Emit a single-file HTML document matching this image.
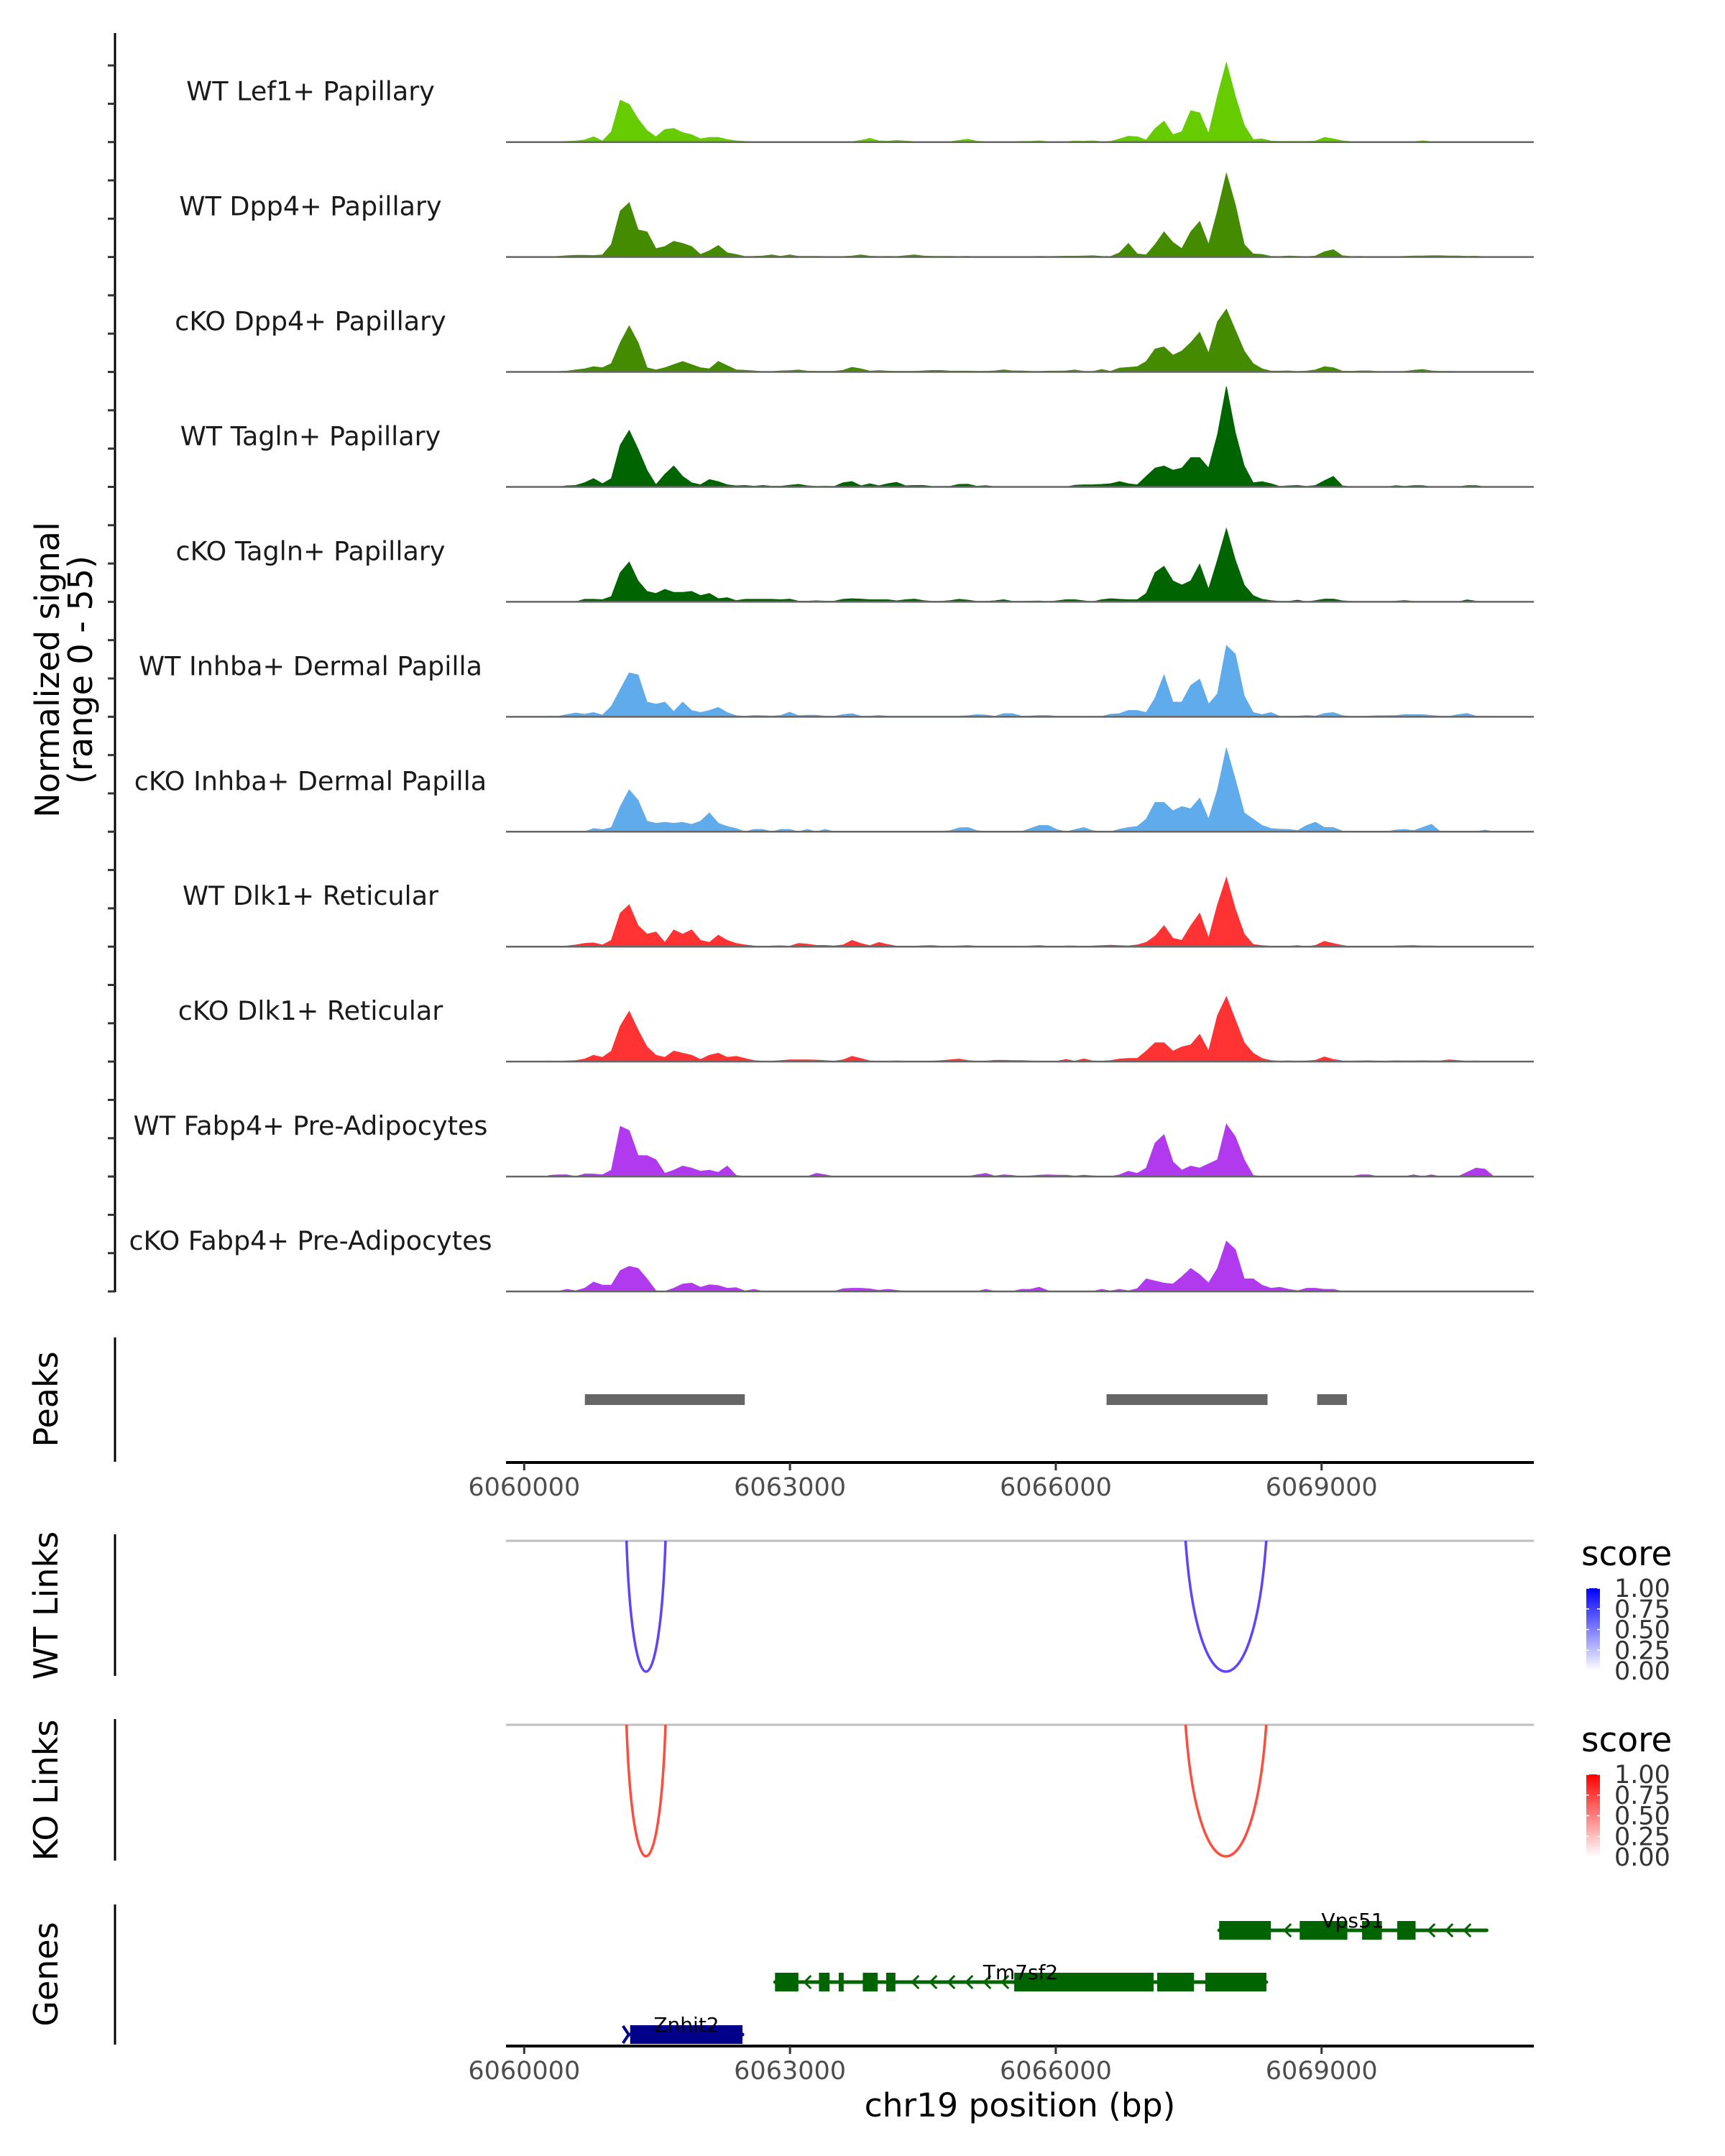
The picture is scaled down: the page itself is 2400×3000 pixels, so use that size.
<!DOCTYPE html>
<html><head><meta charset="utf-8">
<style>
html,body{margin:0;padding:0;background:#fff;}
svg{display:block;font-family:"DejaVu Sans","Liberation Sans",sans-serif;}
</style></head>
<body>
<svg id="fig" width="2400" height="3000" viewBox="0 0 2400 3000" xmlns="http://www.w3.org/2000/svg"></svg>
<script>
const trackLabels = ["WT Lef1+ Papillary","WT Dpp4+ Papillary","cKO Dpp4+ Papillary","WT Tagln+ Papillary","cKO Tagln+ Papillary","WT Inhba+ Dermal Papilla","cKO Inhba+ Dermal Papilla","WT Dlk1+ Reticular","cKO Dlk1+ Reticular","WT Fabp4+ Pre-Adipocytes","cKO Fabp4+ Pre-Adipocytes"];
const trackColors = ["#66cc00","#448b00","#448b00","#006400","#006400","#60abeb","#60abeb","#ff3333","#ff3333","#b23aee","#b23aee"];
const binStart = 6060280;
const binSize = 100.6;
const sigWTLef1 = [0,0.2,0.3,0.5,1.0,2.5,0.5,5,20,18,11,5.5,2.5,6,6.5,4.5,3.5,1.5,2.2,2.2,1.2,0.6,0.3,0.2,0.2,0.2,0.2,0.2,0.2,0.2,0.2,0.2,0.2,0.2,0.2,0.8,1.8,0.6,0.4,0.8,0.5,0.2,0.2,0.2,0.2,0.2,0.8,1.4,0.4,0.2,0.2,0.2,0.2,0.3,0.3,0.6,0.2,0.2,0.2,0.5,0.4,0.6,0.2,0.3,1.5,2.8,2.5,1,6.5,10,3.5,5,15,14,4,22,38,22,8,1.2,1.5,0.5,0.3,0.3,0.3,0.3,0.5,2.2,1.5,0.6,0.2,0.2,0.2,0.2,0.2,0.2,0.2,0.2,0.6,0.2,0.2,0.2,0.2,0.2,0.2,0.2,0];
const sigWTDpp4 = [0,0.3,0.6,0.8,0.8,0.7,1.0,6,22,26,13,12,4,5,7.5,6.5,5,1.2,3,5.5,2,1.2,0.2,0.3,0.5,1.0,0.3,1.0,0.3,0.3,0.3,0.2,0.2,0.2,0.5,1.0,0.4,0.2,0.3,0.2,0.6,1.0,0.5,0.3,0.3,0.3,0.2,0.3,0,0,0,0,0,0,0.2,0.3,0.2,0.3,0.4,0.4,0.5,0.6,0.3,0.2,2,6.5,1.5,1,6,12,7,4,12,17,6,22,40,25,6,1.5,1.2,0.3,0.2,0.5,0.3,0.1,0.5,2.5,3.5,0.6,0.2,0.3,0.1,0.1,0.1,0.1,0.3,0.5,0.5,0.6,0.6,0.5,0.5,0.3,0.4,0.1,0];
const sigKODpp4 = [0,0.2,0.4,1,1.5,2.5,2,4,14,22,14,2,1,2,3.5,5,3.5,2,1.5,5,3,1,0.8,0.5,0.1,0.2,0.5,0.6,0.9,0.4,0.3,0.3,0.3,0.8,2.2,1.5,0.4,0.6,0.4,0.3,0.3,0.3,0.5,0.7,0.7,0.4,0.4,0.4,0.3,0.3,0.5,1.0,0.5,0.5,0.3,0.2,0.4,0.4,0.5,0.9,0.3,0.2,1.2,0.3,1.8,2.2,2.5,5,11,12,8,10,14,19,9,24,30,20,10,4,1.5,0.4,0.4,0.5,0.2,0.4,1.0,2.5,2,0.4,0.3,0.5,0.5,0.2,0.1,0.1,0.3,0.8,1.2,0.5,0.3,0.3,0.2,0.2,0.2,0,0];
const sigWTTagln = [0,0,0.5,0.7,2,4,1.5,4,20,27,18,8,1,6,10,5,2,1,3.5,2.5,1,0.5,0.7,0.3,0.7,0.3,0.3,0.8,1.2,0.5,0.2,0.3,0.2,2,2.5,0.5,1.5,0.5,1.5,2.2,0.5,0.7,0.7,0.2,0.2,0.3,1.2,1.3,0.3,0.6,0.1,0,0,0,0,0,0,0,0,0.8,1.0,1.0,1.2,1.5,2.5,1.5,1,5,9,10,8,9,14,14,9,25,48,26,10,2,2.5,1.5,0.2,0.5,0.7,0.2,0.7,3,5,0.5,0,0,0,0,0,0.6,0.2,0.6,0.6,0,0,0,0,0.6,0.6,0,0];
const sigKOTagln = [0.2,0,0,0,1.2,1.2,1.0,2.5,14,19,10,5,4,6,4.5,4.5,5,3,4,1.5,2,0.6,1.2,1.2,1.2,1.2,1.0,1.3,0.3,0.3,0.5,0.3,0.3,1.2,1.5,1.3,1.0,1.0,1.0,0.5,1.0,1.3,0.6,0.2,0.2,0.6,1.2,0.8,0.2,0.2,0.5,1.0,0.2,0.2,0.3,0.4,0,0.5,1.0,1.0,0.5,0,1.0,1.5,1.2,1.0,1.0,4,14,17,10,8,10,18,6,20,35,20,8,3,1.2,0.6,0.2,0.2,0.8,0,0.6,1.3,1.3,0.5,0.2,0,0,0,0,0.3,0.6,0.2,0,0,0,0,0,0.9,0.3,0,0];
const sigWTInhba = [0.3,0.2,1.0,1.8,1.2,2,0.8,5,13,21,20,7,6,7,2.5,7,3,2,3,4.5,2,0.5,0.2,0.6,0.5,0.3,0.6,2.2,0.5,0.7,0.7,0.3,0.2,1.0,1.5,0.3,0.3,0.6,0.3,0.2,0.3,0.3,0.3,0.2,0.3,0.2,0.3,0.5,1.0,0.8,0.2,1.5,1.5,0.3,0.4,0.6,0.6,0.2,0.2,0.2,0.1,0.2,0.2,1.2,1.5,3,3,2,9,20,7,7,15,18,6,11,34,30,10,2,1.0,2,0.2,0.3,0.3,0.6,0.3,1.6,2,0.6,0.1,0.1,0.3,0.5,0.5,0.6,1.0,1.0,1.0,0.6,0.3,0.2,1.0,1.6,0.3,0.3,0];
const sigKOInhba = [0,0,0,0,0,1.5,1.0,2,12,20,15,5,4,4.5,4,4.5,3.5,5,9,4,2.5,1.5,0,1.1,1.1,0,1.1,1.1,0,1.1,0,1.1,0,0,0,0,0,0,0,0,0,0,0,0,0,0.5,1.8,2,0.5,0,0,0,0,0,1.5,3,3,1,0,1,2,0.5,0,0,1.2,2,2.5,6,14,14,10,12,11,16,6,20,40,25,9,6,3,1.5,1.2,1.1,0.5,3,4.5,2,2,0.3,0,0,0,0,0,0.8,1.1,0.5,2,3.5,0,0,0,0,0,0.8,0];
const sigWTDlk1 = [0.2,0,0.3,0.8,1.5,1.8,0.8,3,16,20,10,6,7,2,8,6,8,3,2,5.5,3,1.5,0.8,0.3,0,0.3,0.4,0.2,1.5,1.2,0.6,0.6,0.3,0.8,3,1.5,0.5,2,1.0,0.2,0.2,0.2,0.4,0.5,0.2,0.2,0.3,0.5,0.2,0,0,0,0,0,0.3,0.5,0.2,0,0.3,0.3,0,0.3,0.5,0.7,0.5,0.3,0.8,2,5,10,4,3,10,16,4,20,33,18,6,1,0.5,0.2,0.2,0.2,0.5,0,0.6,2.5,1.5,0.6,0,0.2,0.2,0.2,0,0.3,0.4,0.5,0.3,0.3,0.2,0,0,0,0,0,0];
const sigKODlk1 = [0.3,0,0.3,0.5,1.2,3,2,5,17,24,15,7,3,2,5,4,3,1,3,4,2,2.5,1.5,0.5,0.2,0.2,0.5,0.8,0.8,0.8,0.7,0.5,0.2,0.8,2.5,1.5,0.3,0.2,0.2,0.3,0.2,0.2,0.2,0.2,0.5,0.8,1.2,0.5,0.2,0.2,0.6,0.6,0.5,0.5,0.3,0.2,0.2,0.2,1.0,0.2,1.3,0.3,0.2,0.5,1.2,1.5,1.5,5,9,9,5,7,8,13,5,22,31,20,9,4,1.5,0.5,0.2,0.3,0.2,0.3,0.6,2.2,1.0,0.3,0.2,0.3,0.4,0.2,0.2,0.4,0.3,0.3,0.4,0.3,0.3,0.8,0.5,0.2,0.3,0,0];
const sigWTFabp4 = [0.5,0.8,0.8,0,1.2,1.2,0.8,3,24,22,10,10,8,1.5,3,5,4,2.5,3,2,5,0.5,0,0,0,0,0,0,0,0,1.5,0.8,0,0,0,0,0,0,0,0,0,0,0,0,0,0,0,0,0.8,1.5,0.2,0.8,0.5,0,0.3,0.6,0.8,0.6,0.6,0.2,0.6,0.3,0,0,0.8,2.5,1.5,4,16,20,7,3,5,4,6,8,25,19,8,0.5,0,0,0,0,0,0,0,0,0,0,0,0.8,0.8,0,0,0,0,0.8,0,0.8,0,0,0,2,4,3.5,0];
const sigKOFabp4 = [0,0,1.0,0.3,1.5,4.5,3,3,10,12,11,6,0.3,0,1.5,3.5,4,2,3.2,2.8,1.5,1.8,0.2,1.0,0,0,0,0,0,0,0,0,0,1.3,1.5,1.5,1.2,0.5,1.0,0.5,0,0,0,0,0,0,0,0,0,1.0,0,0,0,1.0,1.0,2,0.3,0,0,0,0,0,1.0,0.2,1.0,0.3,1.3,6,5,4,3.5,7,11,8,4,11,24,20,6,6,3,1.5,2,1.0,0.3,1.5,1.5,1.0,1.0,0,0,0,0,0,0,0,0,0,0,0,0,0,0,0,0,0,0];
const signals = [sigWTLef1,sigWTDpp4,sigKODpp4,sigWTTagln,sigKOTagln,sigWTInhba,sigKOInhba,sigWTDlk1,sigKODlk1,sigWTFabp4,sigKOFabp4];
const yMax = 55;
const xTicks = [6060000,6063000,6066000,6069000];
const peakStarts = [6060685,6066573,6068950];
const peakEnds = [6062490,6068390,6069286];
const linkStarts = [6061155,6067465];
const linkEnds = [6061595,6068375];
const wtLinkScores = [0.75,0.75];
const koLinkScores = [0.8,0.8];
const legendTicks = ["1.00","0.75","0.50","0.25","0.00"];
const geneNames = ["Vps51","Tm7sf2","Znhit2"];
const geneStarts = [6067844,6062831,6061196];
const geneEnds = [6070863,6068377,6062464];
const geneColors = ["#006400","#006400","#00008b"];
const geneExons = [
  [[6067844,6068428],[6068753,6069291],[6069457,6069680],[6069854,6070061]],
  [[6062831,6063095],[6063327,6063447],[6063550,6063606],[6063822,6063990],[6064086,6064190],[6065531,6067104],[6067144,6067560],[6067688,6068377]],
  [[6061196,6062464]]
];

const NS = "http://www.w3.org/2000/svg";
const svg = document.getElementById("fig");
function el(tag, attrs, parent){ const e=document.createElementNS(NS,tag); for(const k in attrs) e.setAttribute(k,attrs[k]); (parent||svg).appendChild(e); return e; }
function txt(s, attrs, parent){ const e=el("text",attrs,parent); e.textContent=s; return e; }
const xScale = bp => 729.3 + (bp-6060000)*0.12327;
const plotL = 704, plotR = 2134;
const base0 = 197.7, trackStep = 159.93, trackH = 160;
const yVal = v => v/yMax*trackH;

const yAxis = el("line",{x1:160,y1:46,x2:160,y2:1798,stroke:"#000","stroke-width":3});


for(let y=base0-2*trackStep/3; y<1800; y+=trackStep/3){
  const t=el("line",{x1:150,y1:y,x2:160,y2:y,stroke:"#333","stroke-width":3});
  
  
}
const yt = txt("Normalized signal",{x:0,y:0,"font-size":46,"text-anchor":"middle",transform:"translate(82,932) rotate(-90)",fill:"#000"});


const yt2 = txt("(range 0 - 55)",{x:0,y:0,"font-size":46,"text-anchor":"middle",transform:"translate(128,932) rotate(-90)",fill:"#000"});



signals.forEach((vals,ti)=>{
  const base = base0 + ti*trackStep;
  const g = el("g",{});
  
  
  let d = "M"+xScale(binStart).toFixed(1)+","+base;
  vals.forEach((v,i)=>{ d += " L"+xScale(binStart+i*binSize).toFixed(1)+","+(base-yVal(v)).toFixed(1); });
  d += " L"+xScale(binStart+(vals.length-1)*binSize).toFixed(1)+","+base+" Z";
  const p = el("path",{d:d,fill:trackColors[ti],stroke:trackColors[ti],"stroke-width":1},g);
  
  
  const bl = el("line",{x1:plotL,y1:base,x2:plotR,y2:base,stroke:"#666","stroke-width":2.5},g);
  
  
  const lb = txt(trackLabels[ti],{x:432,y:base-58,"font-size":36.5,"text-anchor":"middle",fill:"#1a1a1a"},g);
  
  
});

const pax = el("line",{x1:160,y1:1861,x2:160,y2:2034,stroke:"#000","stroke-width":3});


const pt = txt("Peaks",{x:0,y:0,"font-size":46,"text-anchor":"middle",transform:"translate(80,1947) rotate(-90)"});


peakStarts.forEach((s,i)=>{
  const r = el("rect",{x:xScale(s),y:1940,width:xScale(peakEnds[i])-xScale(s),height:15,fill:"#666"});
  
  
});
function xAxis(y, name){
  const ax = el("line",{x1:plotL,y1:y,x2:plotR,y2:y,stroke:"#000","stroke-width":4});
  
  
  xTicks.forEach(t=>{
    const tk = el("line",{x1:xScale(t),y1:y,x2:xScale(t),y2:y+11,stroke:"#333","stroke-width":3});
    
    
    const tl = txt(String(t),{x:xScale(t),y:y+46,"font-size":35,"text-anchor":"middle",fill:"#4d4d4d"});
    
    
  });
}
xAxis(2035,'peaks-x-axis');

function linkPanel(top, yTop, yBot, title, scores, color, legendY, gradId, gradColor){
  const ax = el("line",{x1:160,y1:top,x2:160,y2:top+197,stroke:"#000","stroke-width":3});
  
  
  const t = txt(title,{x:0,y:0,"font-size":46,"text-anchor":"middle",transform:"translate(80,"+(top+99)+") rotate(-90)"});
  
  
  const gl = el("line",{x1:plotL,y1:yTop,x2:plotR,y2:yTop,stroke:"#bebebe","stroke-width":3});
  
  
  linkStarts.forEach((s,i)=>{
    const x1=xScale(s), x2=xScale(linkEnds[i]), w=x2-x1, dep=yBot-yTop;
    const d="M"+x1+","+yTop+" C"+(x1+0.15*w)+","+(yTop+1.333*dep)+" "+(x2-0.15*w)+","+(yTop+1.333*dep)+" "+x2+","+yTop;
    const p = el("path",{d:d,fill:"none",stroke:color,"stroke-width":3.5,opacity:0.4+0.6*scores[i]});
    
    
  });
  const lg = el("g",{});
  
  
  const defs = el("defs",{},lg);
  const gr = el("linearGradient",{id:gradId,x1:0,y1:1,x2:0,y2:0},defs);
  el("stop",{offset:"0","stop-color":"#ffffff"},gr);
  el("stop",{offset:"1","stop-color":gradColor},gr);
  const lt = txt("score",{x:2200,y:legendY,"font-size":47,fill:"#000"},lg);
  
  
  const by = legendY+32;
  const bar = el("rect",{x:2207,y:by,width:19,height:115,fill:"url(#"+gradId+")"},lg);
  
  
  legendTicks.forEach((s,i)=>{
    const yy = by + i*115/4;
    el("line",{x1:2207,y1:yy,x2:2211,y2:yy,stroke:"#fff","stroke-width":1.5},lg);
    el("line",{x1:2222,y1:yy,x2:2226,y2:yy,stroke:"#fff","stroke-width":1.5},lg);
    const tl = txt(s,{x:2246,y:yy+12,"font-size":35,fill:"#333"},lg);
    
    
  });
}
linkPanel(2135,2144,2326,"WT Links",wtLinkScores,"#4422ff",2178,"gWT","#0000ff");
linkPanel(2392,2400,2583,"KO Links",koLinkScores,"#ff3322",2437,"gKO","#ff0000");

const gax = el("line",{x1:160,y1:2650,x2:160,y2:2845,stroke:"#000","stroke-width":3});


const gt = txt("Genes",{x:0,y:0,"font-size":46,"text-anchor":"middle",transform:"translate(80,2747) rotate(-90)"});


const geneY = [2686,2758,2831];
const geneStrand = [-1,-1,1];
geneNames.forEach((n,gi)=>{
  const g = el("g",{});
  
  
  const y = geneY[gi], c = geneColors[gi];
  const xs = xScale(geneStarts[gi]), xe = xScale(geneEnds[gi]);
  el("line",{x1:xs,y1:y,x2:xe,y2:y,stroke:c,"stroke-width":5,"stroke-linecap":"round"},g);
  const ex = geneExons[gi].map(e=>[xScale(e[0]),xScale(e[1])]);
  if(geneStrand[gi]<0){
    for(let x=xs+20; x<xe-4; x+=25){
      if(ex.some(e=>x>e[0]-8 && x<e[1]+8)) continue;
      el("polyline",{points:(x+5)+","+(y-9)+" "+(x-4)+","+y+" "+(x+5)+","+(y+9),fill:"none",stroke:c,"stroke-width":3},g);
    }
  } else {
    el("polyline",{points:(xs-10)+","+(y-12)+" "+(xs-2)+","+y+" "+(xs-10)+","+(y+12),fill:"none",stroke:c,"stroke-width":4},g);
  }
  ex.forEach(e=>{
    const r = el("rect",{x:e[0],y:y-13,width:Math.max(3,e[1]-e[0]),height:26,fill:c},g);
    
    
  });
  const lx = gi===0?1882:(gi===1?1420:955);
  const lbl = txt(n,{x:lx,y:y-4,"font-size":28,"text-anchor":"middle",fill:"#000"},g);
  
  
});
xAxis(2847,'genes-x-axis');
const xt = txt("chr19 position (bp)",{x:1419,y:2945,"font-size":45.5,"text-anchor":"middle",fill:"#000"});


</script>
</body></html>
